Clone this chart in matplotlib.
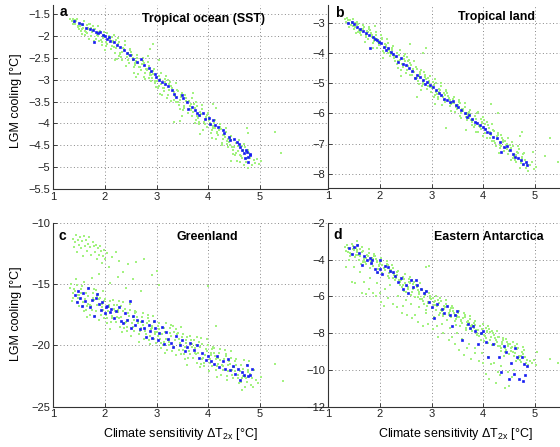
import matplotlib
matplotlib.use("Agg")
import matplotlib.pyplot as plt

plt.rcParams['font.family'] = ['Liberation Sans', 'DejaVu Sans']

# ---------------- data (climate sensitivity, LGM cooling) ----------------
green_a = [
(1.33,-1.62),(1.36,-1.67),(1.38,-1.61),(1.39,-1.72),
(1.47,-1.77),(1.43,-1.64),(1.49,-1.85),(1.40,-1.70),(1.45,-1.61),(1.42,-1.73),(1.48,-1.80),(1.44,-1.67),
(1.54,-1.72),(1.58,-1.83),(1.51,-1.78),(1.56,-1.96),(1.59,-1.67),(1.53,-1.89),(1.57,-1.75),(1.55,-1.85),
(1.62,-1.88),(1.69,-1.73),(1.65,-1.93),(1.67,-1.81),(1.61,-1.98),(1.66,-1.76),(1.64,-1.90),(1.68,-1.84),
(1.77,-1.78),(1.73,-2.00),(1.79,-1.84),(1.70,-2.06),(1.75,-1.92),(1.72,-1.73),(1.78,-2.11),(1.74,-1.81),
(1.84,-1.93),(1.88,-2.12),(1.81,-1.85),(1.86,-2.01),(1.89,-1.90),(1.83,-2.08),(1.87,-1.77),(1.85,-1.98),
(1.92,-2.09),(1.99,-1.92),(1.95,-2.21),(1.97,-2.00),(1.91,-1.89),(1.96,-2.05),(1.94,-2.14),(1.98,-1.97),
(2.07,-2.00),(2.03,-2.15),(2.09,-2.08),(2.00,-2.32),(2.05,-1.94),(2.02,-2.23),(2.08,-2.05),(2.04,-2.18),
(2.14,-2.23),(2.18,-1.97),(2.11,-2.31),(2.16,-2.11),(2.19,-2.39),(2.13,-2.03),(2.17,-2.25),(2.15,-2.15),
(2.22,-2.10),(2.29,-2.38),(2.25,-2.18),(2.27,-2.46),(2.21,-2.28),(2.26,-2.04),(2.24,-2.52),(2.28,-2.14),
(2.37,-2.31),(2.33,-2.55),(2.39,-2.21),(2.30,-2.41),(2.35,-2.27),(2.32,-2.49),(2.38,-2.11),(2.34,-2.37),
(2.44,-2.55),(2.48,-2.33),(2.41,-2.69),(2.46,-2.43),(2.49,-2.29),(2.43,-2.49),(2.47,-2.61),(2.45,-2.39),
(2.52,-2.44),(2.59,-2.62),(2.55,-2.54),(2.57,-2.84),(2.51,-2.36),(2.56,-2.72),(2.54,-2.50),(2.58,-2.66),
(2.67,-2.70),(2.63,-2.44),(2.69,-2.78),(2.60,-2.58),(2.65,-2.86),(2.62,-2.50),(2.68,-2.72),(2.64,-2.62),
(2.74,-2.57),(2.78,-2.85),(2.71,-2.65),(2.76,-2.93),(2.79,-2.75),(2.73,-2.51),(2.77,-2.99),(2.75,-2.61),
(2.82,-2.79),(2.89,-3.03),(2.85,-2.69),(2.87,-2.89),(2.81,-2.75),(2.86,-2.97),(2.84,-2.59),(2.88,-2.85),
(2.97,-3.02),(2.93,-2.80),(2.99,-3.16),(2.90,-2.90),(2.95,-2.76),(2.92,-2.96),(2.98,-3.08),(2.94,-2.86),
(3.04,-2.92),(3.08,-3.10),(3.01,-3.02),(3.06,-3.32),(3.09,-2.84),(3.03,-3.20),(3.07,-2.98),(3.05,-3.14),
(3.12,-3.18),(3.19,-2.92),(3.15,-3.26),(3.17,-3.06),(3.11,-3.34),(3.16,-2.98),(3.14,-3.20),(3.18,-3.10),
(3.27,-3.06),(3.23,-3.34),(3.29,-3.14),(3.20,-3.42),(3.25,-3.24),(3.22,-3.00),(3.28,-3.48),(3.24,-3.10),
(3.34,-3.28),(3.38,-3.52),(3.31,-3.18),(3.36,-3.38),(3.39,-3.24),(3.33,-3.46),(3.37,-3.08),(3.35,-3.34),
(3.42,-3.52),(3.49,-3.30),(3.45,-3.66),(3.47,-3.40),(3.41,-3.26),(3.46,-3.46),(3.44,-3.58),(3.48,-3.36),
(3.57,-3.42),(3.53,-3.60),(3.59,-3.52),(3.50,-3.82),(3.55,-3.34),(3.52,-3.70),(3.58,-3.48),(3.54,-3.64),
(3.64,-3.68),(3.68,-3.42),(3.61,-3.76),(3.66,-3.56),(3.69,-3.84),(3.63,-3.48),(3.67,-3.70),(3.65,-3.60),
(3.72,-3.56),(3.79,-3.84),(3.75,-3.64),(3.77,-3.92),(3.71,-3.74),(3.76,-3.50),(3.74,-3.98),(3.78,-3.60),
(3.87,-3.78),(3.83,-4.02),(3.89,-3.68),(3.80,-3.88),(3.85,-3.74),(3.82,-3.96),(3.88,-3.58),(3.84,-3.84),
(3.94,-4.02),(3.98,-3.80),(3.91,-4.16),(3.96,-3.90),(3.99,-3.76),(3.93,-3.96),(3.97,-4.08),(3.95,-3.86),
(4.02,-3.93),(4.09,-4.11),(4.05,-4.03),(4.07,-4.33),(4.01,-3.85),(4.06,-4.21),(4.04,-3.99),(4.08,-4.15),
(4.17,-4.19),(4.13,-3.93),(4.19,-4.27),(4.10,-4.07),(4.15,-4.35),(4.12,-3.99),(4.18,-4.21),(4.14,-4.11),
(4.24,-4.08),(4.28,-4.36),(4.21,-4.16),(4.26,-4.44),(4.29,-4.26),(4.23,-4.02),(4.27,-4.50),(4.25,-4.12),
(4.32,-4.30),(4.39,-4.54),(4.35,-4.20),(4.37,-4.40),(4.31,-4.26),(4.36,-4.48),(4.34,-4.10),(4.38,-4.36),
(4.47,-4.55),(4.43,-4.33),(4.49,-4.69),(4.40,-4.43),(4.45,-4.29),(4.42,-4.49),(4.48,-4.61),(4.44,-4.39),
(4.54,-4.45),(4.58,-4.63),(4.51,-4.55),(4.56,-4.85),(4.59,-4.37),(4.53,-4.73),(4.57,-4.51),(4.55,-4.67),
(4.62,-4.72),(4.69,-4.46),(4.65,-4.80),(4.67,-4.60),(4.61,-4.88),(4.66,-4.52),(4.64,-4.74),(4.68,-4.64),
(4.77,-4.60),(4.73,-4.88),(4.79,-4.68),(4.70,-4.96),(4.75,-4.78),(4.72,-4.54),(4.78,-5.02),(4.74,-4.64),
(4.82,-4.80),(4.85,-4.95),(4.88,-4.84),(4.91,-4.90),(4.95,-4.82),(4.99,-4.93),(5.03,-4.86),
(2.88,-2.30),(2.93,-2.18),(2.84,-2.45),(3.05,-2.55),(3.45,-3.95),(3.33,-3.97),(3.85,-4.25),
(4.10,-3.55),(4.15,-3.65),(4.75,-4.10),(4.78,-4.22),(5.30,-4.20),(5.42,-4.68),(2.20,-2.55),
(2.60,-2.95),(3.70,-3.30),(4.45,-4.85),
]

blue_a = [
(1.40,-1.65),(1.49,-1.70),(1.55,-1.73),(1.63,-1.83),(1.71,-1.84),(1.76,-1.87),(1.82,-1.91),
(1.87,-1.94),(1.91,-1.92),(1.96,-1.97),(2.00,-2.00),(2.08,-2.03),(1.78,-2.15),(2.04,-2.08),
(2.10,-2.12),(2.18,-2.13),(2.23,-2.21),(2.29,-2.25),(2.37,-2.32),(2.42,-2.39),(2.49,-2.44),
(2.55,-2.52),(2.63,-2.59),(2.70,-2.52),(2.75,-2.67),(2.85,-2.74),(2.89,-2.80),(2.97,-2.87),
(2.99,-2.94),(3.04,-3.01),(3.10,-3.05),(3.17,-3.09),(3.23,-3.15),(3.30,-3.23),(3.33,-3.32),
(3.38,-3.39),(3.49,-3.35),(3.51,-3.43),(3.59,-3.51),(3.62,-3.66),(3.69,-3.62),(3.75,-3.70),
(3.78,-3.77),(3.83,-3.81),(3.91,-3.77),(3.94,-3.89),(4.01,-3.87),(4.04,-4.02),(4.09,-3.93),
(4.14,-4.04),(4.20,-4.08),(4.29,-4.16),(4.31,-4.23),(4.40,-4.31),(4.43,-4.37),(4.50,-4.35),
(4.56,-4.42),(4.59,-4.46),(4.62,-4.54),(4.66,-4.61),(4.69,-4.68),(4.74,-4.60),(4.77,-4.77),
(4.81,-4.71),(4.72,-4.78),(4.78,-4.88),(4.82,-4.72),(4.76,-4.65),
]

green_b = [
(1.33,-2.86),(1.35,-2.97),(1.37,-2.84),(1.38,-3.02),(1.39,-2.92),
(1.44,-3.07),(1.48,-2.88),(1.41,-3.13),(1.46,-2.98),(1.49,-3.19),(1.43,-2.92),(1.47,-3.09),(1.45,-3.01),
(1.52,-3.02),(1.59,-3.23),(1.55,-3.08),(1.57,-3.29),(1.51,-3.15),(1.56,-2.97),(1.54,-3.33),(1.58,-3.05),
(1.67,-3.22),(1.63,-3.40),(1.69,-3.14),(1.60,-3.29),(1.65,-3.19),(1.62,-3.35),(1.68,-3.07),(1.64,-3.26),
(1.74,-3.47),(1.78,-3.20),(1.71,-3.65),(1.76,-3.32),(1.79,-3.15),(1.73,-3.40),(1.77,-3.55),(1.75,-3.27),
(1.82,-3.33),(1.89,-3.56),(1.85,-3.46),(1.87,-3.83),(1.81,-3.23),(1.86,-3.68),(1.84,-3.41),(1.88,-3.61),
(1.97,-3.64),(1.93,-3.32),(1.99,-3.74),(1.90,-3.49),(1.95,-3.84),(1.92,-3.39),(1.98,-3.67),(1.94,-3.54),
(2.04,-3.49),(2.08,-3.84),(2.01,-3.59),(2.06,-3.94),(2.09,-3.71),(2.03,-3.41),(2.07,-4.01),(2.05,-3.54),
(2.12,-3.79),(2.19,-4.09),(2.15,-3.66),(2.17,-3.91),(2.11,-3.74),(2.16,-4.01),(2.14,-3.54),(2.18,-3.86),
(2.27,-4.10),(2.23,-3.83),(2.29,-4.28),(2.20,-3.95),(2.25,-3.78),(2.22,-4.03),(2.28,-4.18),(2.24,-3.90),
(2.34,-4.00),(2.38,-4.23),(2.31,-4.13),(2.36,-4.50),(2.39,-3.90),(2.33,-4.35),(2.37,-4.08),(2.35,-4.28),
(2.42,-4.35),(2.49,-4.03),(2.45,-4.45),(2.47,-4.20),(2.41,-4.55),(2.46,-4.10),(2.44,-4.38),(2.48,-4.25),
(2.57,-4.22),(2.53,-4.57),(2.59,-4.32),(2.50,-4.67),(2.55,-4.44),(2.52,-4.14),(2.58,-4.74),(2.54,-4.27),
(2.64,-4.52),(2.68,-4.82),(2.61,-4.39),(2.66,-4.64),(2.69,-4.47),(2.63,-4.74),(2.67,-4.27),(2.65,-4.59),
(2.72,-4.84),(2.79,-4.57),(2.75,-5.02),(2.77,-4.69),(2.71,-4.52),(2.76,-4.77),(2.74,-4.92),(2.78,-4.64),
(2.87,-4.73),(2.83,-4.96),(2.89,-4.86),(2.80,-5.23),(2.85,-4.63),(2.82,-5.08),(2.88,-4.81),(2.84,-5.01),
(2.94,-5.08),(2.98,-4.76),(2.91,-5.18),(2.96,-4.93),(2.99,-5.28),(2.93,-4.83),(2.97,-5.11),(2.95,-4.98),
(3.02,-4.95),(3.09,-5.30),(3.05,-5.05),(3.07,-5.40),(3.01,-5.17),(3.06,-4.87),(3.04,-5.47),(3.08,-5.00),
(3.17,-5.23),(3.13,-5.53),(3.19,-5.10),(3.10,-5.35),(3.15,-5.18),(3.12,-5.45),(3.18,-4.98),(3.14,-5.30),
(3.24,-5.54),(3.28,-5.27),(3.21,-5.72),(3.26,-5.39),(3.29,-5.22),(3.23,-5.47),(3.27,-5.62),(3.25,-5.34),
(3.32,-5.42),(3.39,-5.65),(3.35,-5.55),(3.37,-5.92),(3.31,-5.32),(3.36,-5.77),(3.34,-5.50),(3.38,-5.70),
(3.47,-5.76),(3.43,-5.44),(3.49,-5.86),(3.40,-5.61),(3.45,-5.96),(3.42,-5.51),(3.48,-5.79),(3.44,-5.66),
(3.54,-5.62),(3.58,-5.97),(3.51,-5.72),(3.56,-6.07),(3.59,-5.84),(3.53,-5.54),(3.57,-6.14),(3.55,-5.67),
(3.62,-5.91),(3.69,-6.21),(3.65,-5.78),(3.67,-6.03),(3.61,-5.86),(3.66,-6.13),(3.64,-5.66),(3.68,-5.98),
(3.77,-6.21),(3.73,-5.94),(3.79,-6.39),(3.70,-6.06),(3.75,-5.89),(3.72,-6.14),(3.78,-6.29),(3.74,-6.01),
(3.84,-6.10),(3.88,-6.33),(3.81,-6.23),(3.86,-6.60),(3.89,-6.00),(3.83,-6.45),(3.87,-6.18),(3.85,-6.38),
(3.92,-6.43),(3.99,-6.11),(3.95,-6.53),(3.97,-6.28),(3.91,-6.63),(3.96,-6.18),(3.94,-6.46),(3.98,-6.33),
(4.07,-6.30),(4.03,-6.65),(4.09,-6.40),(4.00,-6.75),(4.05,-6.52),(4.02,-6.22),(4.08,-6.82),(4.04,-6.35),
(4.14,-6.60),(4.18,-6.90),(4.11,-6.47),(4.16,-6.72),(4.19,-6.55),(4.13,-6.82),(4.17,-6.35),(4.15,-6.67),
(4.22,-6.91),(4.29,-6.64),(4.25,-7.09),(4.27,-6.76),(4.21,-6.59),(4.26,-6.84),(4.24,-6.99),(4.28,-6.71),
(4.37,-6.81),(4.33,-7.04),(4.39,-6.94),(4.30,-7.31),(4.35,-6.71),(4.32,-7.16),(4.38,-6.89),(4.34,-7.09),
(4.44,-7.15),(4.48,-6.83),(4.41,-7.25),(4.46,-7.00),(4.49,-7.35),(4.43,-6.90),(4.47,-7.18),(4.45,-7.05),
(4.52,-7.03),(4.59,-7.38),(4.55,-7.13),(4.57,-7.48),(4.51,-7.25),(4.56,-6.95),(4.54,-7.55),(4.58,-7.08),
(4.67,-7.32),(4.63,-7.62),(4.69,-7.19),(4.60,-7.44),(4.65,-7.27),(4.62,-7.54),(4.68,-7.07),(4.64,-7.39),
(4.74,-7.63),(4.78,-7.36),(4.71,-7.81),(4.76,-7.48),(4.79,-7.31),(4.73,-7.56),(4.77,-7.71),(4.75,-7.43),
(4.81,-7.55),(4.83,-7.80),(4.85,-7.66),(4.87,-7.92),(4.90,-7.72),(4.94,-7.62),(4.98,-7.85),(5.03,-7.78),
(2.58,-3.70),(2.90,-3.85),(2.84,-4.00),(2.72,-5.45),(2.06,-4.15),(3.29,-6.47),(3.06,-5.70),
(3.66,-6.55),(4.16,-5.70),(4.29,-6.00),(4.71,-6.75),(4.76,-6.62),(4.97,-7.27),(5.20,-7.40),
(5.30,-6.80),(5.45,-7.60),(1.90,-3.10),(2.40,-4.75),(3.90,-5.95),
]

blue_b = [
(1.39,-3.00),(1.45,-2.97),(1.50,-3.04),(1.56,-3.13),(1.61,-3.22),(1.68,-3.28),(1.73,-3.35),
(1.78,-3.40),(1.81,-3.85),(1.86,-3.46),(1.91,-3.52),(1.95,-3.57),(1.99,-3.62),(2.03,-3.68),
(2.08,-3.79),(2.12,-3.91),(2.16,-3.85),(2.21,-3.96),(2.26,-4.02),(2.32,-4.10),(2.35,-4.29),
(2.40,-4.18),(2.45,-4.35),(2.50,-4.40),(2.57,-4.51),(2.63,-4.59),(2.68,-4.84),(2.72,-4.73),
(2.77,-4.81),(2.83,-4.90),(2.87,-5.01),(2.92,-4.95),(2.97,-5.06),(3.02,-5.14),(3.08,-5.23),
(3.14,-5.34),(3.19,-5.40),(3.24,-5.51),(3.30,-5.56),(3.35,-5.62),(3.42,-5.58),(3.47,-5.73),
(3.52,-5.80),(3.58,-5.89),(3.65,-5.98),(3.68,-6.11),(3.73,-6.06),(3.79,-6.17),(3.84,-6.28),
(3.88,-6.33),(3.94,-6.39),(3.99,-6.44),(4.03,-6.53),(4.08,-6.61),(4.13,-6.66),(4.19,-6.77),
(4.26,-6.83),(4.32,-6.94),(4.35,-7.27),(4.40,-7.10),(4.46,-7.08),(4.52,-7.22),(4.58,-7.33),
(4.61,-7.44),(4.68,-7.49),(4.74,-7.55),(4.77,-7.66),(4.83,-7.60),(4.85,-7.71),
]

green_c = [
(1.34,-15.0),(1.38,-16.1),(1.33,-15.3),(1.36,-16.4),(1.39,-15.7),
(1.42,-15.6),(1.49,-16.8),(1.45,-15.1),(1.47,-16.1),(1.41,-15.4),(1.46,-16.5),(1.44,-14.6),(1.48,-15.9),
(1.57,-16.5),(1.53,-15.4),(1.59,-17.2),(1.50,-15.9),(1.55,-15.2),(1.52,-16.2),(1.58,-16.8),(1.54,-15.7),
(1.64,-15.7),(1.68,-16.6),(1.61,-16.2),(1.66,-17.7),(1.69,-15.3),(1.63,-17.1),(1.67,-16.0),(1.65,-16.8),
(1.72,-16.7),(1.79,-15.4),(1.75,-17.1),(1.77,-16.1),(1.71,-17.5),(1.76,-15.7),(1.74,-16.8),(1.78,-16.3),
(1.87,-15.8),(1.83,-17.2),(1.89,-16.2),(1.80,-17.6),(1.85,-16.7),(1.82,-15.5),(1.88,-17.9),(1.84,-16.0),
(1.94,-16.6),(1.98,-17.8),(1.91,-16.1),(1.96,-17.1),(1.99,-16.4),(1.93,-17.5),(1.97,-15.6),(1.95,-16.9),
(2.02,-17.5),(2.09,-16.4),(2.05,-18.2),(2.07,-16.9),(2.01,-16.2),(2.06,-17.2),(2.04,-17.8),(2.08,-16.7),
(2.17,-16.7),(2.13,-17.6),(2.19,-17.2),(2.10,-18.7),(2.15,-16.3),(2.12,-18.1),(2.18,-17.0),(2.14,-17.8),
(2.24,-17.7),(2.28,-16.4),(2.21,-18.1),(2.26,-17.1),(2.29,-18.5),(2.23,-16.7),(2.27,-17.8),(2.25,-17.3),
(2.32,-16.8),(2.39,-18.2),(2.35,-17.2),(2.37,-18.6),(2.31,-17.7),(2.36,-16.5),(2.34,-18.9),(2.38,-17.0),
(2.47,-17.6),(2.43,-18.8),(2.49,-17.1),(2.40,-18.1),(2.45,-17.4),(2.42,-18.5),(2.48,-16.6),(2.44,-17.9),
(2.54,-18.5),(2.58,-17.4),(2.51,-19.2),(2.56,-17.9),(2.59,-17.2),(2.53,-18.2),(2.57,-18.8),(2.55,-17.7),
(2.62,-17.7),(2.69,-18.6),(2.65,-18.2),(2.67,-19.7),(2.61,-17.3),(2.66,-19.1),(2.64,-18.0),(2.68,-18.8),
(2.77,-18.7),(2.73,-17.4),(2.79,-19.1),(2.70,-18.1),(2.75,-19.5),(2.72,-17.7),(2.78,-18.8),(2.74,-18.3),
(2.84,-17.8),(2.88,-19.2),(2.81,-18.2),(2.86,-19.6),(2.89,-18.7),(2.83,-17.5),(2.87,-19.9),(2.85,-18.0),
(2.92,-18.6),(2.99,-19.8),(2.95,-18.1),(2.97,-19.1),(2.91,-18.4),(2.96,-19.5),(2.94,-17.6),(2.98,-18.9),
(3.07,-19.5),(3.03,-18.4),(3.09,-20.2),(3.00,-18.9),(3.05,-18.2),(3.02,-19.2),(3.08,-19.8),(3.04,-18.7),
(3.14,-18.6),(3.18,-19.5),(3.11,-19.1),(3.16,-20.6),(3.19,-18.2),(3.13,-20.0),(3.17,-18.9),(3.15,-19.7),
(3.22,-19.6),(3.29,-18.3),(3.25,-20.0),(3.27,-19.0),(3.21,-20.4),(3.26,-18.6),(3.24,-19.7),(3.28,-19.2),
(3.37,-18.7),(3.33,-20.1),(3.39,-19.1),(3.30,-20.5),(3.35,-19.6),(3.32,-18.4),(3.38,-20.8),(3.34,-18.9),
(3.44,-19.5),(3.48,-20.7),(3.41,-19.0),(3.46,-20.0),(3.49,-19.3),(3.43,-20.4),(3.47,-18.5),(3.45,-19.8),
(3.52,-20.4),(3.59,-19.3),(3.55,-21.1),(3.57,-19.8),(3.51,-19.1),(3.56,-20.1),(3.54,-20.7),(3.58,-19.6),
(3.67,-19.6),(3.63,-20.5),(3.69,-20.1),(3.60,-21.6),(3.65,-19.2),(3.62,-21.0),(3.68,-19.9),(3.64,-20.7),
(3.74,-20.6),(3.78,-19.3),(3.71,-21.0),(3.76,-20.0),(3.79,-21.4),(3.73,-19.6),(3.77,-20.7),(3.75,-20.2),
(3.82,-19.7),(3.89,-21.1),(3.85,-20.1),(3.87,-21.5),(3.81,-20.6),(3.86,-19.4),(3.84,-21.8),(3.88,-19.9),
(3.97,-20.5),(3.93,-21.7),(3.99,-20.0),(3.90,-21.0),(3.95,-20.3),(3.92,-21.4),(3.98,-19.5),(3.94,-20.8),
(4.04,-21.4),(4.08,-20.3),(4.01,-22.1),(4.06,-20.8),(4.09,-20.1),(4.03,-21.1),(4.07,-21.7),(4.05,-20.6),
(4.12,-20.6),(4.19,-21.5),(4.15,-21.1),(4.17,-22.6),(4.11,-20.2),(4.16,-22.0),(4.14,-20.9),(4.18,-21.7),
(4.27,-21.6),(4.23,-20.3),(4.29,-22.0),(4.20,-21.0),(4.25,-22.4),(4.22,-20.6),(4.28,-21.7),(4.24,-21.2),
(4.34,-20.7),(4.38,-22.1),(4.31,-21.1),(4.36,-22.5),(4.39,-21.6),(4.33,-20.4),(4.37,-22.8),(4.35,-20.9),
(4.42,-21.5),(4.49,-22.7),(4.45,-21.0),(4.47,-22.0),(4.41,-21.3),(4.46,-22.4),(4.44,-20.5),(4.48,-21.8),
(4.57,-22.4),(4.53,-21.3),(4.59,-23.1),(4.50,-21.8),(4.55,-21.1),(4.52,-22.1),(4.58,-22.7),(4.54,-21.6),
(4.64,-21.6),(4.68,-22.5),(4.61,-22.1),(4.66,-23.6),(4.69,-21.2),(4.63,-23.0),(4.67,-21.9),(4.65,-22.7),
(4.72,-22.6),(4.79,-21.3),(4.75,-23.0),(4.77,-22.0),(4.71,-23.4),(4.76,-21.6),(4.74,-22.7),(4.78,-22.2),
(4.81,-22.3),(4.83,-23.2),(4.85,-22.7),(4.87,-23.4),(4.89,-22.0),(4.93,-22.8),(4.97,-23.1),(5.02,-22.6),
(4.00,-15.2),(4.15,-18.4),(5.30,-21.5),(5.45,-22.9),
(1.38,-11.3),(1.40,-12.0),(1.42,-11.6),(1.44,-11.0),(1.46,-12.4),(1.48,-11.4),(1.50,-11.8),
(1.52,-11.2),(1.54,-12.1),(1.56,-11.5),(1.58,-12.7),(1.60,-11.1),(1.62,-11.9),(1.64,-11.4),
(1.66,-12.3),(1.68,-11.7),(1.70,-11.2),(1.72,-12.0),(1.74,-12.6),(1.76,-11.6),(1.78,-11.9),
(1.80,-12.4),(1.82,-11.8),(1.84,-13.0),(1.86,-12.1),(1.88,-12.6),(1.90,-11.9),(1.92,-12.3),
(1.94,-13.3),(1.96,-12.7),(1.98,-12.2),(2.00,-13.0),(2.04,-12.5),(2.08,-13.6),(2.14,-12.8),
(2.22,-12.4),(2.28,-13.1),(2.35,-14.0),(2.45,-13.4),(2.60,-13.2),(2.75,-13.0),(2.92,-14.3),
(3.00,-13.9),(3.05,-15.1),(2.55,-14.6),(2.25,-14.4),(1.75,-14.5),(1.88,-14.2),(1.60,-14.8),
(2.10,-14.9),(2.40,-15.3),(2.70,-15.6),
]

blue_c = [
(1.42,-15.9),(1.45,-16.5),(1.48,-15.6),(1.52,-16.1),(1.55,-16.8),(1.58,-15.7),(1.62,-16.4),
(1.68,-15.3),(1.72,-16.9),(1.75,-16.3),(1.78,-17.6),(1.82,-16.1),(1.85,-15.8),(1.88,-16.6),
(1.92,-17.1),(1.95,-16.5),(2.00,-17.4),(2.02,-16.9),(2.05,-16.8),(2.10,-17.3),(2.12,-17.0),
(2.18,-17.8),(2.22,-17.2),(2.28,-16.9),(2.32,-18.0),(2.35,-18.2),(2.38,-17.4),(2.42,-17.9),
(2.48,-16.4),(2.50,-18.6),(2.55,-17.6),(2.58,-18.3),(2.62,-17.9),(2.68,-18.7),(2.72,-18.0),
(2.75,-18.6),(2.80,-19.3),(2.85,-18.3),(2.88,-18.8),(2.92,-19.4),(2.95,-18.0),(2.98,-18.6),
(3.02,-19.6),(3.05,-19.0),(3.10,-18.5),(3.15,-19.9),(3.18,-18.9),(3.22,-19.5),(3.28,-19.8),
(3.32,-20.1),(3.38,-19.2),(3.45,-20.0),(3.50,-19.6),(3.55,-20.5),(3.60,-20.1),(3.65,-19.8),
(3.72,-20.4),(3.78,-20.0),(3.82,-21.0),(3.88,-20.6),(3.95,-21.2),(4.00,-20.9),(4.05,-21.3),
(4.12,-21.5),(4.18,-20.9),(4.22,-21.8),(4.28,-21.3),(4.32,-21.9),(4.38,-21.1),(4.42,-22.0),
(4.48,-21.7),(4.52,-22.3),(4.58,-21.9),(4.62,-22.8),(4.65,-22.2),(4.70,-22.4),(4.75,-21.6),
(4.78,-22.5),(4.82,-22.4),(4.85,-21.9),
]

green_d = [
(1.33,-3.30),(1.35,-3.52),(1.37,-3.22),(1.38,-3.60),(1.39,-3.40),(1.35,-4.40),
(1.47,-3.29),(1.43,-3.63),(1.49,-3.48),(1.40,-4.05),(1.45,-3.14),(1.42,-3.82),(1.48,-3.41),(1.44,-3.71),
(1.54,-3.73),(1.58,-3.23),(1.51,-3.88),(1.56,-3.50),(1.59,-4.03),(1.53,-3.35),(1.57,-3.76),(1.55,-3.57),
(1.62,-3.45),(1.69,-3.98),(1.65,-3.60),(1.67,-4.13),(1.61,-3.79),(1.66,-3.33),(1.64,-4.25),(1.68,-3.52),
(1.77,-3.81),(1.73,-4.26),(1.79,-3.62),(1.70,-4.00),(1.75,-3.73),(1.72,-4.15),(1.78,-3.43),(1.74,-3.92),
(1.84,-4.21),(1.88,-3.79),(1.81,-4.48),(1.86,-3.98),(1.89,-3.72),(1.83,-4.10),(1.87,-4.33),(1.85,-3.91),
(1.92,-3.96),(1.99,-4.30),(1.95,-4.15),(1.97,-4.72),(1.91,-3.81),(1.96,-4.49),(1.94,-4.08),(1.98,-4.38),
(2.07,-4.44),(2.03,-3.94),(2.09,-4.59),(2.00,-4.21),(2.05,-4.74),(2.02,-4.06),(2.08,-4.47),(2.04,-4.28),
(2.14,-4.22),(2.18,-4.75),(2.11,-4.37),(2.16,-4.90),(2.19,-4.56),(2.13,-4.10),(2.17,-5.02),(2.15,-4.29),
(2.22,-4.66),(2.29,-5.11),(2.25,-4.47),(2.27,-4.85),(2.21,-4.58),(2.26,-5.00),(2.24,-4.28),(2.28,-4.77),
(2.37,-5.12),(2.33,-4.70),(2.39,-5.39),(2.30,-4.89),(2.35,-4.63),(2.32,-5.01),(2.38,-5.24),(2.34,-4.82),
(2.44,-4.95),(2.48,-5.29),(2.41,-5.14),(2.46,-5.71),(2.49,-4.80),(2.43,-5.48),(2.47,-5.07),(2.45,-5.37),
(2.52,-5.46),(2.59,-4.96),(2.55,-5.61),(2.57,-5.23),(2.51,-5.76),(2.56,-5.08),(2.54,-5.49),(2.58,-5.30),
(2.67,-5.24),(2.63,-5.77),(2.69,-5.39),(2.60,-5.92),(2.65,-5.58),(2.62,-5.12),(2.68,-6.04),(2.64,-5.31),
(2.74,-5.68),(2.78,-6.13),(2.71,-5.49),(2.76,-5.87),(2.79,-5.60),(2.73,-6.02),(2.77,-5.30),(2.75,-5.79),
(2.82,-6.14),(2.89,-5.72),(2.85,-6.41),(2.87,-5.91),(2.81,-5.65),(2.86,-6.03),(2.84,-6.26),(2.88,-5.84),
(2.97,-5.97),(2.93,-6.31),(2.99,-6.16),(2.90,-6.73),(2.95,-5.82),(2.92,-6.50),(2.98,-6.09),(2.94,-6.39),
(3.04,-6.46),(3.08,-5.96),(3.01,-6.61),(3.06,-6.23),(3.09,-6.76),(3.03,-6.08),(3.07,-6.49),(3.05,-6.30),
(3.12,-6.21),(3.19,-6.74),(3.15,-6.36),(3.17,-6.89),(3.11,-6.55),(3.16,-6.09),(3.14,-7.01),(3.18,-6.28),
(3.27,-6.60),(3.23,-7.05),(3.29,-6.41),(3.20,-6.79),(3.25,-6.52),(3.22,-6.94),(3.28,-6.22),(3.24,-6.71),
(3.34,-7.03),(3.38,-6.61),(3.31,-7.30),(3.36,-6.80),(3.39,-6.54),(3.33,-6.92),(3.37,-7.15),(3.35,-6.73),
(3.42,-6.81),(3.49,-7.15),(3.45,-7.00),(3.47,-7.57),(3.41,-6.66),(3.46,-7.34),(3.44,-6.93),(3.48,-7.23),
(3.57,-7.29),(3.53,-6.79),(3.59,-7.44),(3.50,-7.06),(3.55,-7.59),(3.52,-6.91),(3.58,-7.32),(3.54,-7.13),
(3.64,-7.03),(3.68,-7.56),(3.61,-7.18),(3.66,-7.71),(3.69,-7.37),(3.63,-6.91),(3.67,-7.83),(3.65,-7.10),
(3.72,-7.43),(3.79,-7.88),(3.75,-7.24),(3.77,-7.62),(3.71,-7.35),(3.76,-7.77),(3.74,-7.05),(3.78,-7.54),
(3.87,-7.85),(3.83,-7.43),(3.89,-8.12),(3.80,-7.62),(3.85,-7.36),(3.82,-7.74),(3.88,-7.97),(3.84,-7.55),
(3.94,-7.64),(3.98,-7.98),(3.91,-7.83),(3.96,-8.40),(3.99,-7.49),(3.93,-8.17),(3.97,-7.76),(3.95,-8.06),
(4.02,-8.12),(4.09,-7.62),(4.05,-8.27),(4.07,-7.89),(4.01,-8.42),(4.06,-7.74),(4.04,-8.15),(4.08,-7.96),
(4.17,-7.87),(4.13,-8.40),(4.19,-8.02),(4.10,-8.55),(4.15,-8.21),(4.12,-7.75),(4.18,-8.67),(4.14,-7.94),
(4.24,-8.27),(4.28,-8.72),(4.21,-8.08),(4.26,-8.46),(4.29,-8.19),(4.23,-8.61),(4.27,-7.89),(4.25,-8.38),
(4.32,-8.70),(4.39,-8.28),(4.35,-8.97),(4.37,-8.47),(4.31,-8.21),(4.36,-8.59),(4.34,-8.82),(4.38,-8.40),
(4.47,-8.49),(4.43,-8.83),(4.49,-8.68),(4.40,-9.25),(4.45,-8.34),(4.42,-9.02),(4.48,-8.61),(4.44,-8.91),
(4.54,-8.97),(4.58,-8.47),(4.51,-9.12),(4.56,-8.74),(4.59,-9.27),(4.53,-8.59),(4.57,-9.00),(4.55,-8.81),
(4.62,-8.72),(4.69,-9.25),(4.65,-8.87),(4.67,-9.40),(4.61,-9.06),(4.66,-8.60),(4.64,-9.52),(4.68,-8.79),
(4.77,-9.12),(4.73,-9.57),(4.79,-8.93),(4.70,-9.31),(4.75,-9.04),(4.72,-9.46),(4.78,-8.74),(4.74,-9.23),
(4.81,-9.30),(4.83,-9.62),(4.85,-9.45),(4.87,-9.75),(4.90,-9.50),(4.94,-9.65),(4.98,-9.45),(5.03,-9.75),(5.05,-9.00),
(1.45,-5.20),(1.52,-5.25),(1.55,-3.00),(1.65,-5.80),(1.73,-5.90),(1.78,-5.60),(1.86,-5.80),
(1.93,-6.00),(2.03,-6.30),(2.08,-6.50),(2.15,-6.10),(2.26,-6.40),(2.33,-6.60),(2.43,-6.90),
(2.53,-7.00),(2.63,-7.20),(2.73,-7.40),(2.83,-7.60),(2.90,-4.40),(2.95,-4.35),(2.93,-7.50),
(3.03,-7.80),(3.13,-8.20),(3.23,-8.00),(3.33,-8.40),(3.45,-8.60),(3.53,-8.90),(3.63,-9.20),
(3.76,-9.40),(3.85,-9.10),(3.93,-9.50),(4.05,-10.20),(4.12,-10.50),(4.15,-9.70),(4.25,-10.70),
(4.33,-10.30),(4.42,-11.00),(4.50,-10.90),(4.56,-10.40),(5.30,-9.40),(5.45,-9.60),
(1.50,-4.40),(1.62,-4.70),(1.80,-5.00),(1.95,-5.30),(2.10,-5.60),(2.20,-5.40),(2.35,-6.00),
(2.50,-6.20),(2.60,-6.40),(2.75,-6.60),(2.90,-6.90),(3.05,-7.10),(3.20,-7.50),(3.35,-7.70),
(3.50,-8.00),(3.60,-8.30),(3.72,-8.60),(3.85,-8.80),(3.98,-9.10),(4.10,-9.30),(4.22,-9.60),
(4.35,-9.80),(4.48,-10.10),(4.60,-10.00),(1.70,-5.20),(2.00,-5.80),(2.45,-6.50),(2.68,-7.00),
(3.10,-7.60),(3.40,-8.20),(3.68,-8.80),(4.00,-9.60),(4.28,-10.10),
]

blue_d = [
(1.40,-3.4),(1.45,-3.7),(1.50,-3.3),(1.55,-3.2),(1.60,-3.65),(1.65,-4.3),(1.70,-3.8),(1.75,-4.0),
(1.80,-3.9),(1.82,-4.2),(1.85,-4.0),(1.90,-4.5),(1.95,-4.7),(2.00,-4.0),(2.00,-4.5),(2.05,-4.8),
(2.10,-4.35),(2.15,-4.4),(2.20,-4.6),(2.25,-4.7),(2.30,-4.9),(2.35,-5.2),(2.40,-5.0),(2.45,-5.6),
(2.50,-5.4),(2.55,-5.8),(2.60,-5.1),(2.65,-5.5),(2.70,-5.1),(2.72,-5.4),(2.80,-5.6),(2.85,-5.8),
(2.90,-5.7),(2.95,-6.3),(3.00,-6.6),(3.05,-7.2),(3.10,-6.4),(3.20,-6.7),(3.25,-6.9),(3.30,-6.5),
(3.35,-7.0),(3.40,-7.6),(3.45,-7.0),(3.50,-6.8),(3.60,-8.4),(3.70,-7.5),(3.75,-7.7),(3.80,-7.6),
(3.85,-7.9),(3.90,-8.6),(3.95,-8.0),(4.00,-7.9),(4.05,-8.5),(4.10,-9.3),(4.20,-8.6),(4.30,-9.3),
(4.35,-10.1),(4.40,-8.7),(4.45,-9.0),(4.50,-10.5),(4.55,-9.6),(4.60,-10.2),(4.62,-8.8),(4.65,-9.3),
(4.70,-10.5),(4.75,-9.3),(4.78,-10.6),(4.80,-9.7),(4.82,-10.3),(4.85,-9.8),
]

titles = ["Tropical ocean (SST)", "Tropical land", "Greenland", "Eastern Antarctica"]
letters = ["a", "b", "c", "d"]
yticks_list = [
    [-5.5, -5, -4.5, -4, -3.5, -3, -2.5, -2, -1.5],
    [-8, -7, -6, -5, -4, -3],
    [-25, -20, -15, -10],
    [-12, -10, -8, -6, -4, -2],
]
ytick_labels = [
    ["\u22125.5", "\u22125", "\u22124.5", "\u22124", "\u22123.5", "\u22123", "\u22122.5", "\u22122", "\u22121.5"],
    ["\u22128", "\u22127", "\u22126", "\u22125", "\u22124", "\u22123"],
    ["\u221225", "\u221220", "\u221215", "\u221210"],
    ["\u221212", "\u221210", "\u22128", "\u22126", "\u22124", "\u22122"],
]
xticks = [1, 2, 3, 4, 5]
xlabel_text = "Climate sensitivity \u0394T$_{\\mathregular{2x}}$ [\u00b0C]"
ylabel_text = "LGM cooling [\u00b0C]"

# ---------------- layout ----------------
W, H = 560, 447
fig = plt.figure(figsize=(W / 100, H / 100), dpi=100)

def px_axes(left, top, right, bottom, z):
    ax = fig.add_axes([left / W, 1 - bottom / H, (right - left) / W, (bottom - top) / H])
    ax.set_zorder(z)
    return ax

ax_a = px_axes(53.3, 5, 328, 189, 1)
ax_b = px_axes(328.3, 5, 610, 188, 2)
ax_c = px_axes(53.3, 222.7, 328, 406.7, 1)
ax_d = px_axes(328.3, 222.7, 610, 406.7, 2)

axes = [ax_a, ax_b, ax_c, ax_d]
ylims = [(-5.5, -1.294), (-8.47, -2.41), (-25, -10), (-12, -2)]
greens = [green_a, green_b, green_c, green_d]
blues = [blue_a, blue_b, blue_c, blue_d]

green_col = (0.64, 0.95, 0.50)
blue_col = (0.08, 0.10, 0.95)

for i, ax in enumerate(axes):
    ax.set_facecolor("white")
    gx = [p[0] for p in greens[i]]
    gy = [p[1] for p in greens[i]]
    bx = [p[0] for p in blues[i]]
    by = [p[1] for p in blues[i]]
    ax.scatter(gx, gy, s=4.2, marker="s", color=green_col, linewidths=0, zorder=2)
    ax.scatter(bx, by, s=4.2, marker="s", facecolor=blue_col, edgecolor=blue_col,
               linewidths=0.45, zorder=3)
    bbox = ax.get_position()
    width_px = bbox.width * W
    ax.set_xlim(1, 1 + width_px / 51.6)
    ax.set_ylim(*ylims[i])
    ax.set_xticks(xticks)
    ax.set_xticklabels([str(t) for t in xticks])
    ax.set_yticks(yticks_list[i])
    ax.set_yticklabels(ytick_labels[i])
    ax.tick_params(direction="in", length=3, width=0.6, labelsize=8, pad=2, colors="#222222")
    ax.grid(True, linestyle=(0, (1, 2.5)), color="#888888", linewidth=0.7)
    ax.set_axisbelow(True)
    for s in ["top", "right"]:
        ax.spines[s].set_visible(False)
    for s in ["left", "bottom"]:
        ax.spines[s].set_linewidth(0.8)
        ax.spines[s].set_color("#333333")

# panel titles and letters (figure pixel positions)
title_pos = [(203, 19), (496, 17), (207, 237), (489, 237)]
letter_pos = [(60, 12), (335, 13), (58, 236), (333, 235)]
for i in range(4):
    fig.text(title_pos[i][0] / W, 1 - title_pos[i][1] / H, titles[i], ha="center", va="center",
             fontsize=8.9, fontweight="bold", zorder=10)
    fig.text(letter_pos[i][0] / W, 1 - letter_pos[i][1] / H, letters[i], ha="left", va="center",
             fontsize=10, fontweight="bold", zorder=10)

for (xc, yc) in [(16, 101), (16, 314)]:
    fig.text(xc / W, 1 - yc / H, ylabel_text, rotation=90, ha="center", va="center", fontsize=9)
for (xc, yc) in [(180, 434), (455, 434)]:
    fig.text(xc / W, 1 - yc / H, xlabel_text, ha="center", va="center", fontsize=9)

fig.savefig("out.png", dpi=100)
